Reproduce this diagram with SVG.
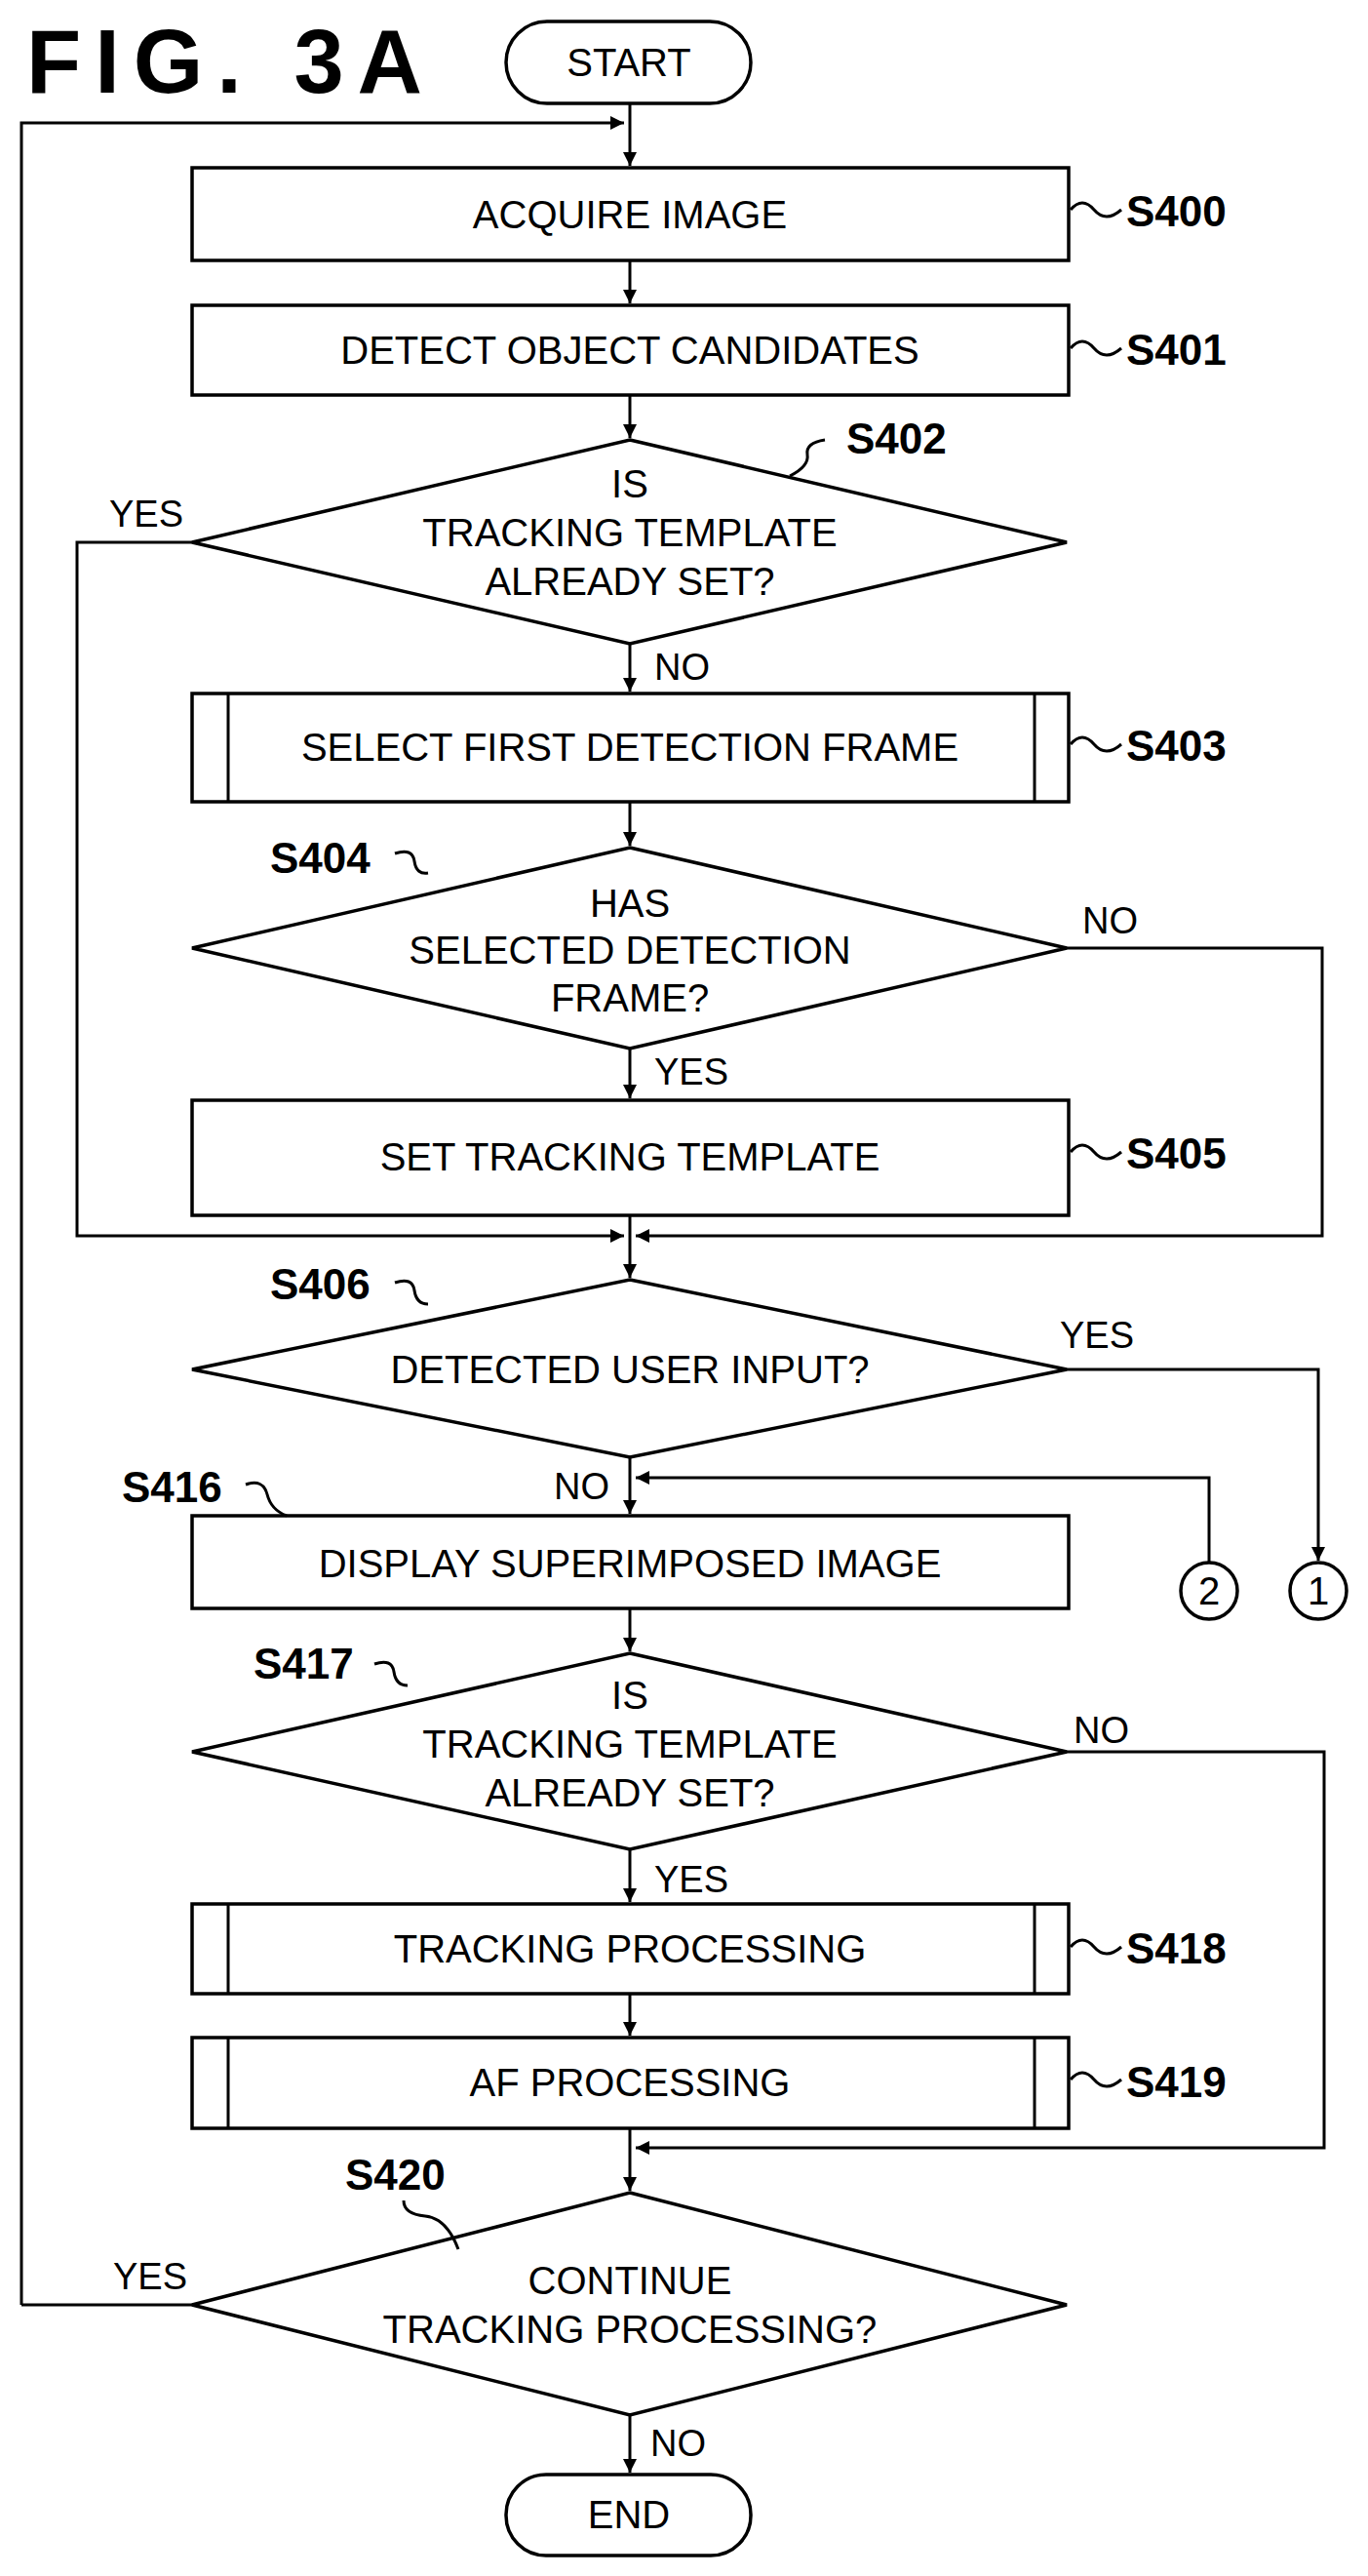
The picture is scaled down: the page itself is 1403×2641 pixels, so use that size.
<svg xmlns="http://www.w3.org/2000/svg" width="1403" height="2641" viewBox="0 0 1403 2641">
<style>
.s{fill:#fff;stroke:#000;stroke-width:3.5}
.l{fill:none;stroke:#000;stroke-width:3}
.t{font-family:"Liberation Sans",Arial,sans-serif;font-size:40px;text-anchor:middle;fill:#000}
.b{font-family:"Liberation Sans",Arial,sans-serif;font-size:44px;font-weight:bold;fill:#000}
.y{font-family:"Liberation Sans",Arial,sans-serif;font-size:38px;fill:#000}
</style>
<defs>
<marker id="a" viewBox="0 0 10 10" refX="10" refY="5" markerWidth="14" markerHeight="14" markerUnits="userSpaceOnUse" orient="auto"><path d="M0,0 L10,5 L0,10 z" fill="#000"/></marker>
</defs>
<rect width="1403" height="2641" fill="#fff"/>
<text x="27" y="95" font-family="Liberation Sans,Arial,sans-serif" font-size="92" font-weight="bold" letter-spacing="14">FIG. 3A</text>
<g id="connectors">
<path class="l" d="M646,106 V170" marker-end="url(#a)"/>
<path class="l" d="M22,2363 H197 M22,2363 V126 H640" marker-end="url(#a)"/>
<path class="l" d="M646,267 V311" marker-end="url(#a)"/>
<path class="l" d="M646,405 V449" marker-end="url(#a)"/>
<path class="l" d="M646,660 V709" marker-end="url(#a)"/>
<path class="l" d="M646,822 V867" marker-end="url(#a)"/>
<path class="l" d="M646,1075 V1126" marker-end="url(#a)"/>
<path class="l" d="M197,556 H79 V1267 H640" marker-end="url(#a)"/>
<path class="l" d="M1094,972 H1356 V1267 H652" marker-end="url(#a)"/>
<path class="l" d="M646,1246 V1310" marker-end="url(#a)"/>
<path class="l" d="M646,1494 V1552" marker-end="url(#a)"/>
<path class="l" d="M1094,1404 H1352 V1600" marker-end="url(#a)"/>
<path class="l" d="M1240,1602 V1515 H652" marker-end="url(#a)"/>
<path class="l" d="M646,1649 V1693" marker-end="url(#a)"/>
<path class="l" d="M646,1896 V1950" marker-end="url(#a)"/>
<path class="l" d="M646,2044 V2087" marker-end="url(#a)"/>
<path class="l" d="M1094,1796 H1358 V2202 H652" marker-end="url(#a)"/>
<path class="l" d="M646,2182 V2246" marker-end="url(#a)"/>
<path class="l" d="M646,2476 V2535" marker-end="url(#a)"/>
</g>
<g id="start"><rect class="s" x="519" y="22" width="251" height="84" rx="42"/><text class="t" x="645" y="78">START</text></g>
<g id="S400"><rect class="s" x="197" y="172" width="899" height="95"/><text class="t" x="646" y="234">ACQUIRE IMAGE</text><path class="l" d="M1098,215 q12,-14 24,0 t28,0"/><text class="b" x="1155" y="232">S400</text></g>
<g id="S401"><rect class="s" x="197" y="313" width="899" height="92"/><text class="t" x="646" y="373">DETECT OBJECT CANDIDATES</text><path class="l" d="M1098,357 q12,-14 24,0 t28,0"/><text class="b" x="1155" y="374">S401</text></g>
<g id="S402"><path class="s" d="M646,451 L1094,556 L646,660 L197,556 Z"/><text class="t" x="646" y="510">IS</text><text class="t" x="646" y="560">TRACKING TEMPLATE</text><text class="t" x="646" y="610">ALREADY SET?</text><path class="l" d="M810,488 q20,-10 18,-22 t18,-15"/><text class="b" x="868" y="465">S402</text><text class="y" x="112" y="540">YES</text><text class="y" x="671" y="697">NO</text></g>
<g id="S403"><rect class="s" x="197" y="711" width="899" height="111"/><path class="l" d="M234,711 V822 M1061,711 V822"/><text class="t" x="646" y="780">SELECT FIRST DETECTION FRAME</text><path class="l" d="M1098,763 q12,-14 24,0 t28,0"/><text class="b" x="1155" y="780">S403</text></g>
<g id="S404"><path class="s" d="M646,869 L1094,972 L646,1075 L197,972 Z"/><text class="t" x="646" y="940">HAS</text><text class="t" x="646" y="988">SELECTED DETECTION</text><text class="t" x="646" y="1037">FRAME?</text><path class="l" d="M405,875 q18,-6 20,8 t14,12"/><text class="b" x="277" y="895">S404</text><text class="y" x="1110" y="957">NO</text><text class="y" x="671" y="1112">YES</text></g>
<g id="S405"><rect class="s" x="197" y="1128" width="899" height="118"/><text class="t" x="646" y="1200">SET TRACKING TEMPLATE</text><path class="l" d="M1098,1181 q12,-14 24,0 t28,0"/><text class="b" x="1155" y="1198">S405</text></g>
<g id="S406"><path class="s" d="M646,1312 L1094,1404 L646,1494 L197,1404 Z"/><text class="t" x="646" y="1418">DETECTED USER INPUT?</text><path class="l" d="M405,1315 q18,-6 20,8 t14,14"/><text class="b" x="277" y="1332">S406</text><text class="y" x="1087" y="1382">YES</text><text class="y" x="568" y="1537">NO</text></g>
<g id="c1"><ellipse class="s" cx="1352" cy="1631" rx="29" ry="29"/><text class="t" x="1352" y="1645">1</text></g>
<g id="c2"><ellipse class="s" cx="1240" cy="1631" rx="29" ry="29"/><text class="t" x="1240" y="1645">2</text></g>
<g id="S416"><rect class="s" x="197" y="1554" width="899" height="95"/><text class="t" x="646" y="1617">DISPLAY SUPERIMPOSED IMAGE</text><path class="l" d="M252,1522 q18,-6 22,10 t20,22"/><text class="b" x="125" y="1540">S416</text></g>
<g id="S417"><path class="s" d="M646,1695 L1094,1796 L646,1896 L197,1796 Z"/><text class="t" x="646" y="1752">IS</text><text class="t" x="646" y="1802">TRACKING TEMPLATE</text><text class="t" x="646" y="1852">ALREADY SET?</text><path class="l" d="M384,1706 q18,-6 20,8 t14,14"/><text class="b" x="260" y="1721">S417</text><text class="y" x="1101" y="1787">NO</text><text class="y" x="671" y="1940">YES</text></g>
<g id="S418"><rect class="s" x="197" y="1952" width="899" height="92"/><path class="l" d="M234,1952 V2044 M1061,1952 V2044"/><text class="t" x="646" y="2012">TRACKING PROCESSING</text><path class="l" d="M1098,1996 q12,-14 24,0 t28,0"/><text class="b" x="1155" y="2013">S418</text></g>
<g id="S419"><rect class="s" x="197" y="2089" width="899" height="93"/><path class="l" d="M234,2089 V2182 M1061,2089 V2182"/><text class="t" x="646" y="2149">AF PROCESSING</text><path class="l" d="M1098,2132 q12,-14 24,0 t28,0"/><text class="b" x="1155" y="2150">S419</text></g>
<g id="S420"><path class="s" d="M646,2248 L1094,2363 L646,2476 L197,2363 Z"/><text class="t" x="646" y="2352">CONTINUE</text><text class="t" x="646" y="2402">TRACKING PROCESSING?</text><path class="l" d="M414,2256 q0,14 22,16 t34,34"/><text class="b" x="354" y="2245">S420</text><text class="y" x="116" y="2347">YES</text><text class="y" x="667" y="2518">NO</text></g>
<g id="end"><rect class="s" x="519" y="2537" width="251" height="83" rx="41"/><text class="t" x="645" y="2592">END</text></g>
</svg>
